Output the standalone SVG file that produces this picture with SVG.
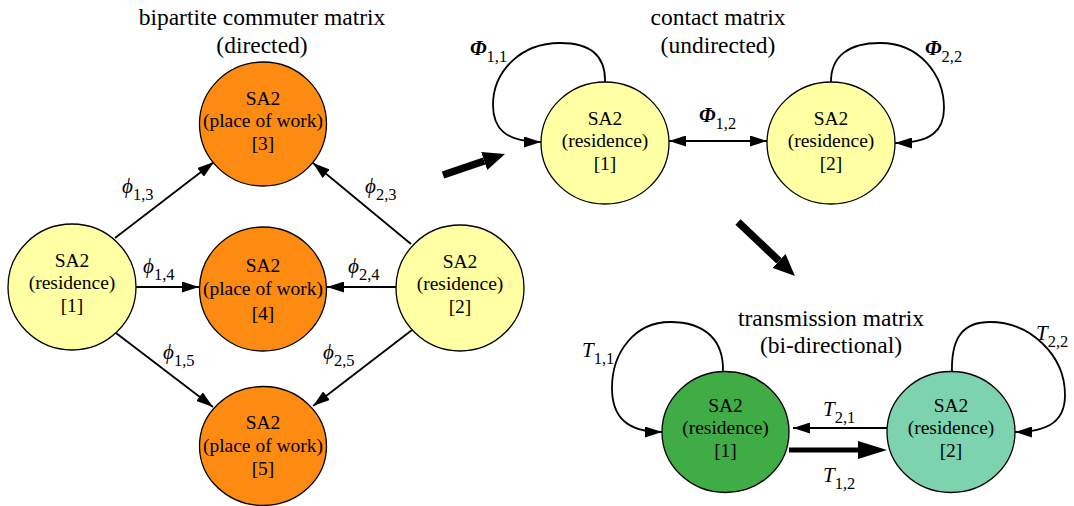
<svg xmlns="http://www.w3.org/2000/svg" width="1074" height="506" viewBox="0 0 1074 506">
  <style>
    text { font-family: "Liberation Serif", "DejaVu Serif", serif; fill: #000; }
    .title { font-family: "Liberation Serif", "DejaVu Serif", serif; font-size: 23.5px; text-anchor: middle; }
    .lbl { font-family: "Liberation Serif", "DejaVu Serif", serif; font-size: 19.5px; text-anchor: middle; }
    .sym { font-family: "Liberation Serif", "DejaVu Serif", serif; font-size: 21px; font-style: italic; }
    .symb { font-family: "Liberation Serif", "DejaVu Serif", serif; font-size: 21px; font-style: italic; font-weight: bold; }
    .sub { font-size: 16.5px; font-style: normal; font-weight: normal; }
    .node { stroke: #000; stroke-width: 1.3; }
    .res { fill: #FFFFA3; }
    .work { fill: #FD8A11; }
    .t1 { fill: #40AC46; }
    .t2 { fill: #7DD3AF; }
    .edge { fill: none; stroke: #000; stroke-width: 1.8; }
    .heavy { fill: none; stroke: #000; stroke-width: 5; }
    .bold { fill: none; stroke: #000; stroke-width: 7.5; }
  </style>
  <defs>
    <marker id="arrow" markerUnits="userSpaceOnUse" markerWidth="17" markerHeight="11" refX="17" refY="5.5" orient="auto-start-reverse" viewBox="0 0 17 11">
      <path d="M0,0 L17,5.5 L0,11 z" fill="#000"/>
    </marker>
    <marker id="arrowHeavy" markerUnits="userSpaceOnUse" markerWidth="29" markerHeight="18" refX="0" refY="9" orient="auto" viewBox="0 0 29 18">
      <path d="M0,0 L29,9 L0,18 z" fill="#000"/>
    </marker>
    <marker id="arrowBold" markerUnits="userSpaceOnUse" markerWidth="22" markerHeight="19" refX="0" refY="9.5" orient="auto" viewBox="0 0 22 19">
      <path d="M0,0 L22,9.5 L0,19 z" fill="#000"/>
    </marker>
  </defs>

  <!-- section titles -->
  <g id="titles">
    <text class="title" x="262" y="25">bipartite commuter matrix</text>
    <text class="title" x="262" y="53">(directed)</text>
    <text class="title" x="718" y="25">contact matrix</text>
    <text class="title" x="718" y="53">(undirected)</text>
    <text class="title" x="831" y="326">transmission matrix</text>
    <text class="title" x="831" y="353">(bi-directional)</text>
  </g>

  <!-- connectors -->
  <g id="connectors">
    <!-- commuter flows: residence to place of work -->
    <line class="edge" x1="115" y1="238" x2="214" y2="162" marker-end="url(#arrow)"/>
    <line class="edge" x1="136" y1="287" x2="199" y2="287" marker-end="url(#arrow)"/>
    <line class="edge" x1="116" y1="333" x2="213" y2="407" marker-end="url(#arrow)"/>
    <line class="edge" x1="411" y1="244" x2="313" y2="163" marker-end="url(#arrow)"/>
    <line class="edge" x1="396" y1="287" x2="327" y2="287" marker-end="url(#arrow)"/>
    <line class="edge" x1="412" y1="330" x2="313" y2="406" marker-end="url(#arrow)"/>

    <!-- contact graph -->
    <path class="edge" d="M605,83 C606,55 590,43 560,43 C520,43 493,72 493,105 C493,128 505,142 541,142" marker-end="url(#arrow)"/>
    <path class="edge" d="M831,84 C830,55 850,43 880,43 C920,43 944,75 944,108 C944,130 932,143 895,143" marker-end="url(#arrow)"/>
    <line class="edge" x1="669" y1="141" x2="767" y2="141" marker-start="url(#arrow)" marker-end="url(#arrow)"/>

    <!-- transmission graph -->
    <path class="edge" d="M723,372 C724,340 705,322 670,322 C635,322 612,352 612,388 C612,418 628,432 662,432" marker-end="url(#arrow)"/>
    <path class="edge" d="M952,372 C951,335 965,322 990,322 C1030,322 1065,355 1065,395 C1065,420 1050,432 1015,432" marker-end="url(#arrow)"/>
    <line class="edge" x1="887" y1="428" x2="793" y2="428" marker-end="url(#arrow)"/>
    <line class="heavy" x1="789" y1="450" x2="858" y2="450" marker-end="url(#arrowHeavy)"/>

    <!-- step arrows between the three matrices -->
    <line class="bold" x1="443" y1="175" x2="484.2" y2="161" marker-end="url(#arrowBold)"/>
    <line class="bold" x1="738" y1="222" x2="779" y2="260.9" marker-end="url(#arrowBold)"/>
  </g>

  <!-- edge labels -->
  <g id="edge-labels">
    <text class="sym" x="122" y="193">ϕ<tspan class="sub" dy="6.5">1,3</tspan></text>
    <text class="sym" x="365" y="193">ϕ<tspan class="sub" dy="6.5">2,3</tspan></text>
    <text class="sym" x="143" y="273">ϕ<tspan class="sub" dy="6.5">1,4</tspan></text>
    <text class="sym" x="348" y="273">ϕ<tspan class="sub" dy="6.5">2,4</tspan></text>
    <text class="sym" x="163" y="359">ϕ<tspan class="sub" dy="6.5">1,5</tspan></text>
    <text class="sym" x="323" y="359">ϕ<tspan class="sub" dy="6.5">2,5</tspan></text>
    <text class="symb" x="470" y="55">Φ<tspan class="sub" dy="6.5">1,1</tspan></text>
    <text class="symb" x="925" y="55">Φ<tspan class="sub" dy="6.5">2,2</tspan></text>
    <text class="symb" x="699" y="122">Φ<tspan class="sub" dy="6.5">1,2</tspan></text>
    <text class="sym" x="582" y="357">T<tspan class="sub" dy="7">1,1</tspan></text>
    <text class="sym" x="1036" y="340">T<tspan class="sub" dy="7">2,2</tspan></text>
    <text class="sym" x="823" y="416">T<tspan class="sub" dy="6.5">2,1</tspan></text>
    <text class="sym" x="823" y="482">T<tspan class="sub" dy="6.5">1,2</tspan></text>
  </g>

  <!-- commuter nodes -->
  <g id="res1">
    <ellipse class="node res" cx="72" cy="287" rx="64" ry="63"/>
    <text class="lbl" x="72" y="267">SA2</text>
    <text class="lbl" x="72" y="289">(residence)</text>
    <text class="lbl" x="72" y="312">[1]</text>
  </g>
  <g id="res2">
    <ellipse class="node res" cx="460" cy="288" rx="64" ry="63"/>
    <text class="lbl" x="460" y="268">SA2</text>
    <text class="lbl" x="460" y="290">(residence)</text>
    <text class="lbl" x="460" y="313">[2]</text>
  </g>
  <g id="work3">
    <ellipse class="node work" cx="263" cy="124" rx="63.5" ry="62"/>
    <text class="lbl" x="263" y="105">SA2</text>
    <text class="lbl" x="263" y="127">(place of work)</text>
    <text class="lbl" x="263" y="150">[3]</text>
  </g>
  <g id="work4">
    <ellipse class="node work" cx="263" cy="289" rx="63.5" ry="62"/>
    <text class="lbl" x="263" y="272">SA2</text>
    <text class="lbl" x="263" y="295">(place of work)</text>
    <text class="lbl" x="263" y="320">[4]</text>
  </g>
  <g id="work5">
    <ellipse class="node work" cx="263" cy="446" rx="63.5" ry="59.5"/>
    <text class="lbl" x="263" y="429">SA2</text>
    <text class="lbl" x="263" y="452">(place of work)</text>
    <text class="lbl" x="263" y="475">[5]</text>
  </g>

  <!-- contact nodes -->
  <g id="contact1">
    <ellipse class="node res" cx="605" cy="143" rx="64" ry="61"/>
    <text class="lbl" x="605" y="125">SA2</text>
    <text class="lbl" x="605" y="147">(residence)</text>
    <text class="lbl" x="605" y="170">[1]</text>
  </g>
  <g id="contact2">
    <ellipse class="node res" cx="831" cy="143" rx="64" ry="61"/>
    <text class="lbl" x="831" y="125">SA2</text>
    <text class="lbl" x="831" y="147">(residence)</text>
    <text class="lbl" x="831" y="170">[2]</text>
  </g>

  <!-- transmission nodes -->
  <g id="trans1">
    <ellipse class="node t1" cx="725.5" cy="432" rx="63.5" ry="60.5"/>
    <text class="lbl" x="725.5" y="412">SA2</text>
    <text class="lbl" x="725.5" y="434">(residence)</text>
    <text class="lbl" x="725.5" y="457">[1]</text>
  </g>
  <g id="trans2">
    <ellipse class="node t2" cx="951" cy="432" rx="64" ry="60.5"/>
    <text class="lbl" x="951" y="412">SA2</text>
    <text class="lbl" x="951" y="434">(residence)</text>
    <text class="lbl" x="951" y="457">[2]</text>
  </g>
</svg>
